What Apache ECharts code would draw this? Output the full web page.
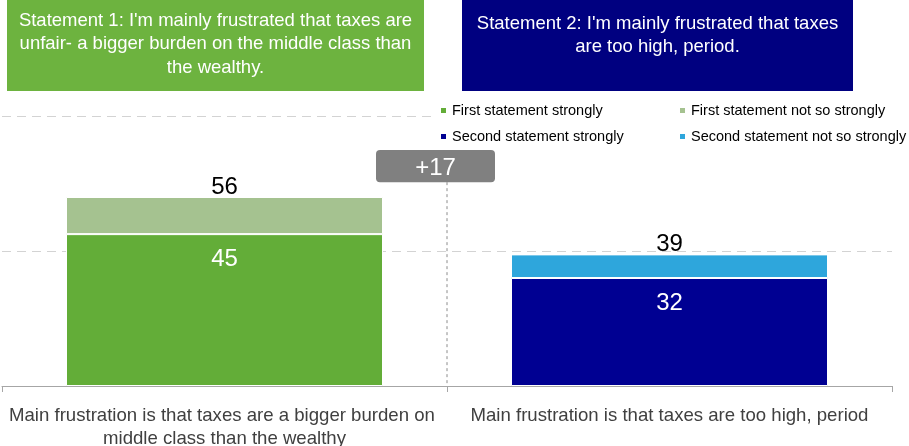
<!DOCTYPE html>
<html>
<head>
<meta charset="utf-8">
<script src="https://cdn.jsdelivr.net/npm/echarts@6/dist/echarts.min.js"></script>
<style>
  html, body { margin: 0; padding: 0; background: #fff; }
  #chart { width: 909px; height: 446px; }
</style>
</head>
<body>
<div id="chart"></div>
<script>
// Survey results: which statement about taxes respondents agree with
const categories = [
  'Main frustration is that taxes are a bigger burden on middle class than the wealthy',
  'Main frustration is that taxes are too high, period'
];
const seriesNames = [
  'First statement strongly',
  'First statement not so strongly',
  'Second statement strongly',
  'Second statement not so strongly'
];
const firstStrong = [45, '-'];
const firstNotSo = [11, '-'];
const secondStrong = ['-', 32];
const secondNotSo = ['-', 7];
const statementTexts = [
  "Statement 1: I'm mainly frustrated that taxes are\nunfair- a bigger burden on the middle class than\nthe wealthy.",
  "Statement 2: I'm mainly frustrated that taxes\nare too high, period."
];
const yTicks = [0, 40, 80];

const FONT = '"Liberation Sans", Arial, Helvetica, sans-serif';
const colors = ['#63AD38', '#A5C290', '#000092', '#2EA6DC'];

const totals = categories.map((_, i) =>
  [firstStrong, firstNotSo, secondStrong, secondNotSo]
    .map(arr => (typeof arr[i] === 'number' ? arr[i] : 0))
    .reduce((a, b) => a + b, 0)
);
const gap = totals[0] - totals[1];

const chart = echarts.init(document.getElementById('chart'), null, { renderer: 'canvas' });

const strongLabel = {
  show: true, position: 'insideTop', distance: 13,
  color: '#fff', fontSize: 24, fontFamily: FONT, lineHeight: 24
};
const totalLabel = {
  show: true, position: 'top', distance: -2,
  color: '#000', fontSize: 24, fontFamily: FONT, lineHeight: 24,
  formatter: p => String(totals[p.dataIndex])
};

function makeLegend(name, left, top) {
  return {
    data: [name], left: left, top: top, padding: 0,
    icon: 'rect', itemWidth: 7, itemHeight: 7, itemGap: 0,
    selectedMode: false,
    textStyle: { fontSize: 14.5, fontFamily: FONT, color: '#000' }
  };
}

chart.setOption({
  animation: false,
  grid: { left: 2, right: 17, top: 116, bottom: 60, containLabel: false, outerBoundsMode: 'none' },
  legend: [
    makeLegend(seriesNames[0], 439, 103),
    makeLegend(seriesNames[1], 678, 103),
    makeLegend(seriesNames[2], 439, 129),
    makeLegend(seriesNames[3], 678, 129)
  ],
  xAxis: {
    type: 'category',
    data: categories,
    axisLine: { lineStyle: { color: '#A6A6A6', width: 1 } },
    axisTick: { show: true, length: 6, lineStyle: { color: '#A6A6A6' } },
    axisLabel: {
      interval: 0, margin: 18, color: '#404040', fontSize: 18.6, fontFamily: FONT,
      lineHeight: 23.5, width: 440, overflow: 'break', align: 'center'
    },
    splitLine: { show: false }
  },
  yAxis: {
    type: 'value', min: yTicks[0], max: yTicks[yTicks.length - 1], interval: 40,
    axisLine: { show: false }, axisTick: { show: false }, axisLabel: { show: false },
    splitLine: { lineStyle: { color: '#D3D3D3', type: [9, 6], width: 1 } }
  },
  series: [
    { name: seriesNames[0], type: 'bar', stack: 'total', data: firstStrong, barWidth: 317,
      itemStyle: { color: colors[0], borderColor: '#fff', borderWidth: 1 }, label: strongLabel },
    { name: seriesNames[1], type: 'bar', stack: 'total', data: firstNotSo, barWidth: 317,
      itemStyle: { color: colors[1], borderColor: '#fff', borderWidth: 1 }, label: totalLabel },
    { name: seriesNames[2], type: 'bar', stack: 'total', data: secondStrong, barWidth: 317,
      itemStyle: { color: colors[2], borderColor: '#fff', borderWidth: 1 }, label: strongLabel },
    { name: seriesNames[3], type: 'bar', stack: 'total', data: secondNotSo, barWidth: 317,
      itemStyle: { color: colors[3], borderColor: '#fff', borderWidth: 1 }, label: totalLabel }
  ]
});

// Annotations placed from the axes: statement boxes, separator and the gap badge
const c0 = chart.convertToPixel({ xAxisIndex: 0 }, 0);
const c1 = chart.convertToPixel({ xAxisIndex: 0 }, 1);
const boundary = (c0 + c1) / 2;
const yBase = chart.convertToPixel({ yAxisIndex: 0 }, 0);
const yBadgeBottom = chart.convertToPixel({ yAxisIndex: 0 }, 60.4);
const yBadgeTop = chart.convertToPixel({ yAxisIndex: 0 }, 69.9);

chart.setOption({
  graphic: [
    // white strip behind the legend
    { type: 'rect', z: 1, shape: { x: 434, y: 98, width: 475, height: 46 },
      style: { fill: '#fff' }, silent: true },
    // statement 1 box
    { type: 'rect', z: 5, shape: { x: 7, y: 0, width: 417, height: 91 },
      style: { fill: '#6DB33F' } },
    { type: 'text', z: 6, x: 215.5, y: 9,
      style: { text: statementTexts[0], fill: '#fff', font: '18.5px ' + FONT,
        align: 'center', verticalAlign: 'top', lineHeight: 23.5 } },
    // statement 2 box
    { type: 'rect', z: 5, shape: { x: 462, y: 0, width: 391, height: 91 },
      style: { fill: '#000080' } },
    { type: 'text', z: 6, x: 657.5, y: 12,
      style: { text: statementTexts[1], fill: '#fff', font: '18.5px ' + FONT,
        align: 'center', verticalAlign: 'top', lineHeight: 23.5 } },
    // separator between the two groups
    { type: 'line', z: 3, shape: { x1: boundary, y1: yBadgeBottom, x2: boundary, y2: yBase },
      style: { stroke: '#8C8C8C', lineWidth: 1, lineDash: [3, 3] } },
    // gap badge
    { type: 'rect', z: 5,
      shape: { x: boundary - 71, y: yBadgeTop, width: 119, height: yBadgeBottom - yBadgeTop, r: 4 },
      style: { fill: '#808080' } },
    { type: 'text', z: 6, x: boundary - 11.5, y: (yBadgeTop + yBadgeBottom) / 2 + 2,
      style: { text: '+' + gap, fill: '#fff', font: '24px ' + FONT,
        align: 'center', verticalAlign: 'middle' } }
  ]
});
</script>
</body>
</html>
